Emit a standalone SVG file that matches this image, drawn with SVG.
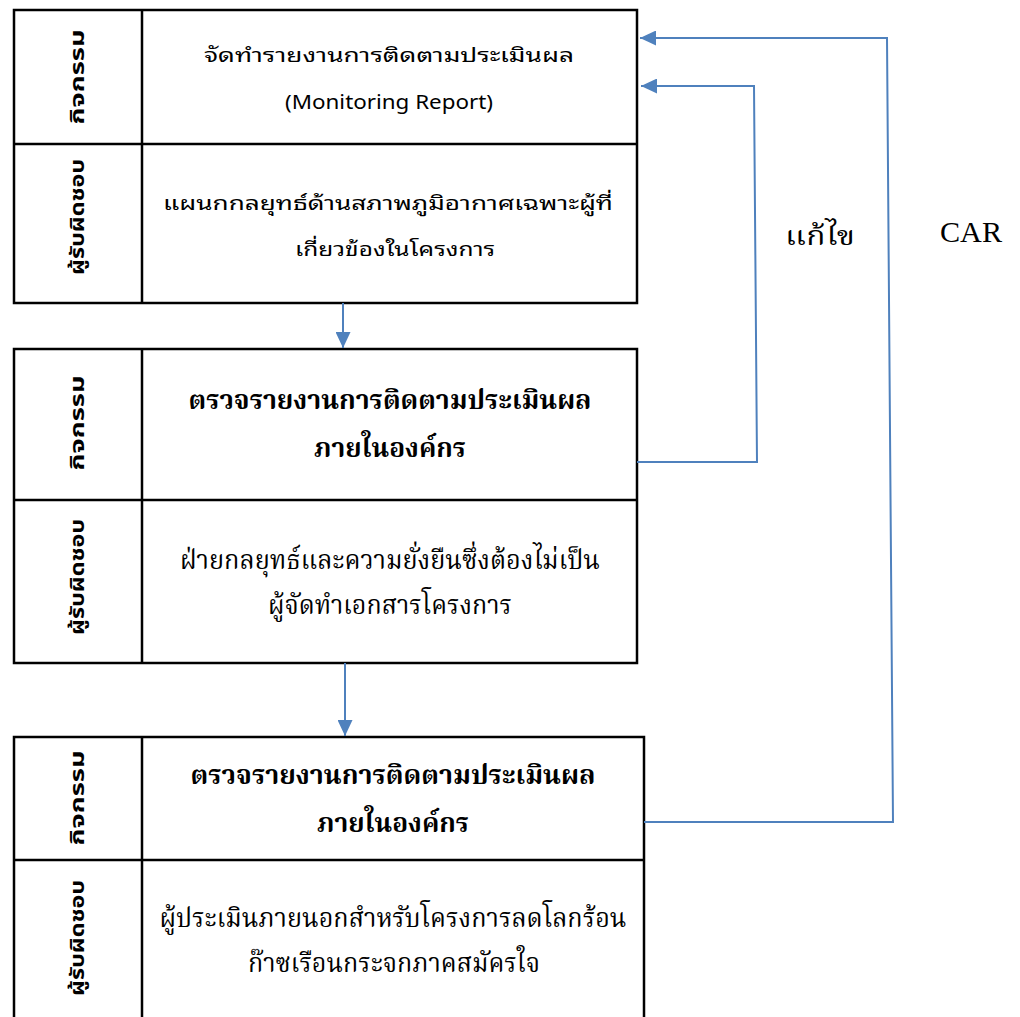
<svg xmlns="http://www.w3.org/2000/svg" width="1020" height="1017" viewBox="0 0 1020 1017">
<style>
.box{fill:none;stroke:#000;stroke-width:2.5}
.conn{fill:none;stroke:#4F81BD;stroke-width:2}
.lbl{font-family:"Noto Sans Thai","Noto Sans Thai Looped","Noto Sans","DejaVu Sans",sans-serif;font-weight:bold;font-size:20px;fill:#000;text-anchor:middle}
.t1{font-family:"Noto Sans Thai Looped","Noto Sans Thai","Noto Sans","DejaVu Sans",sans-serif;font-size:19px;fill:#000;text-anchor:middle}
.t2{font-family:"Noto Serif Thai","Noto Sans Thai","Liberation Serif",serif;font-size:26px;fill:#000;text-anchor:middle}
.t2b{font-family:"Noto Serif Thai","Noto Sans Thai","Liberation Serif",serif;font-size:26px;font-weight:bold;fill:#000;text-anchor:middle}
.side{font-family:"Liberation Serif","Noto Serif Thai",serif;font-size:30px;fill:#000;text-anchor:middle}
</style>
<defs>
<marker id="ah" markerUnits="userSpaceOnUse" markerWidth="16" markerHeight="15" refX="16" refY="7.5" orient="auto">
<path d="M0,0 L16,7.5 L0,15 Z" fill="#4F81BD"/>
</marker>
</defs>
<rect width="1020" height="1017" fill="#fff"/>

<g id="node1">
<rect class="box" x="14" y="10" width="623" height="293"/>
<line class="box" x1="142" y1="10" x2="142" y2="303"/>
<line class="box" x1="14" y1="144" x2="637" y2="144"/>
<text class="lbl" transform="translate(84,77) rotate(-90)" textLength="95" lengthAdjust="spacingAndGlyphs">กิจกรรม</text>
<text class="lbl" transform="translate(84,217) rotate(-90)" textLength="116" lengthAdjust="spacingAndGlyphs">ผู้รับผิดชอบ</text>
<text class="t1" x="389" y="62" textLength="370" lengthAdjust="spacingAndGlyphs">จัดทำรายงานการติดตามประเมินผล</text>
<text class="t1" x="389" y="109" textLength="208" lengthAdjust="spacingAndGlyphs">(Monitoring Report)</text>
<text class="t1" x="388" y="210" textLength="450" lengthAdjust="spacingAndGlyphs">แผนกกลยุทธ์ด้านสภาพภูมิอากาศเฉพาะผู้ที่</text>
<text class="t1" x="395" y="256" textLength="200" lengthAdjust="spacingAndGlyphs">เกี่ยวข้องในโครงการ</text>
</g>

<g id="node2">
<rect class="box" x="14" y="349" width="623" height="314"/>
<line class="box" x1="142" y1="349" x2="142" y2="663"/>
<line class="box" x1="14" y1="500" x2="637" y2="500"/>
<text class="lbl" transform="translate(84,423) rotate(-90)" textLength="95" lengthAdjust="spacingAndGlyphs">กิจกรรม</text>
<text class="lbl" transform="translate(84,577) rotate(-90)" textLength="116" lengthAdjust="spacingAndGlyphs">ผู้รับผิดชอบ</text>
<text class="t2b" x="390" y="409" textLength="403" lengthAdjust="spacingAndGlyphs">ตรวจรายงานการติดตามประเมินผล</text>
<text class="t2b" x="390" y="457" textLength="152" lengthAdjust="spacingAndGlyphs">ภายในองค์กร</text>
<text class="t2" x="390" y="569" textLength="420" lengthAdjust="spacingAndGlyphs">ฝ่ายกลยุทธ์และความยั่งยืนซึ่งต้องไม่เป็น</text>
<text class="t2" x="390" y="614" textLength="244" lengthAdjust="spacingAndGlyphs">ผู้จัดทำเอกสารโครงการ</text>
</g>

<g id="node3">
<rect class="box" x="14" y="737" width="630" height="300"/>
<line class="box" x1="142" y1="737" x2="142" y2="1037"/>
<line class="box" x1="14" y1="860" x2="644" y2="860"/>
<text class="lbl" transform="translate(84,798) rotate(-90)" textLength="95" lengthAdjust="spacingAndGlyphs">กิจกรรม</text>
<text class="lbl" transform="translate(84,938) rotate(-90)" textLength="116" lengthAdjust="spacingAndGlyphs">ผู้รับผิดชอบ</text>
<text class="t2b" x="393" y="784" textLength="405" lengthAdjust="spacingAndGlyphs">ตรวจรายงานการติดตามประเมินผล</text>
<text class="t2b" x="393" y="832" textLength="152" lengthAdjust="spacingAndGlyphs">ภายในองค์กร</text>
<text class="t2" x="393" y="927" textLength="467" lengthAdjust="spacingAndGlyphs">ผู้ประเมินภายนอกสำหรับโครงการลดโลกร้อน</text>
<text class="t2" x="394" y="972" textLength="292" lengthAdjust="spacingAndGlyphs">ก๊าซเรือนกระจกภาคสมัครใจ</text>
</g>

<g id="connectors">
<line class="conn" x1="343" y1="303" x2="343" y2="348" marker-end="url(#ah)"/>
<line class="conn" x1="345" y1="663" x2="345" y2="736" marker-end="url(#ah)"/>
<polyline class="conn" points="637,462 757,462 754,86 641,86" marker-end="url(#ah)"/>
<polyline class="conn" points="644,822 893,822 887,38 640,38" marker-end="url(#ah)"/>
</g>

<g id="labels">
<text class="t2" x="820" y="245" font-size="31" textLength="70" lengthAdjust="spacingAndGlyphs">แก้ไข</text>
<text class="side" x="971" y="242" textLength="62" lengthAdjust="spacingAndGlyphs">CAR</text>
</g>
</svg>
